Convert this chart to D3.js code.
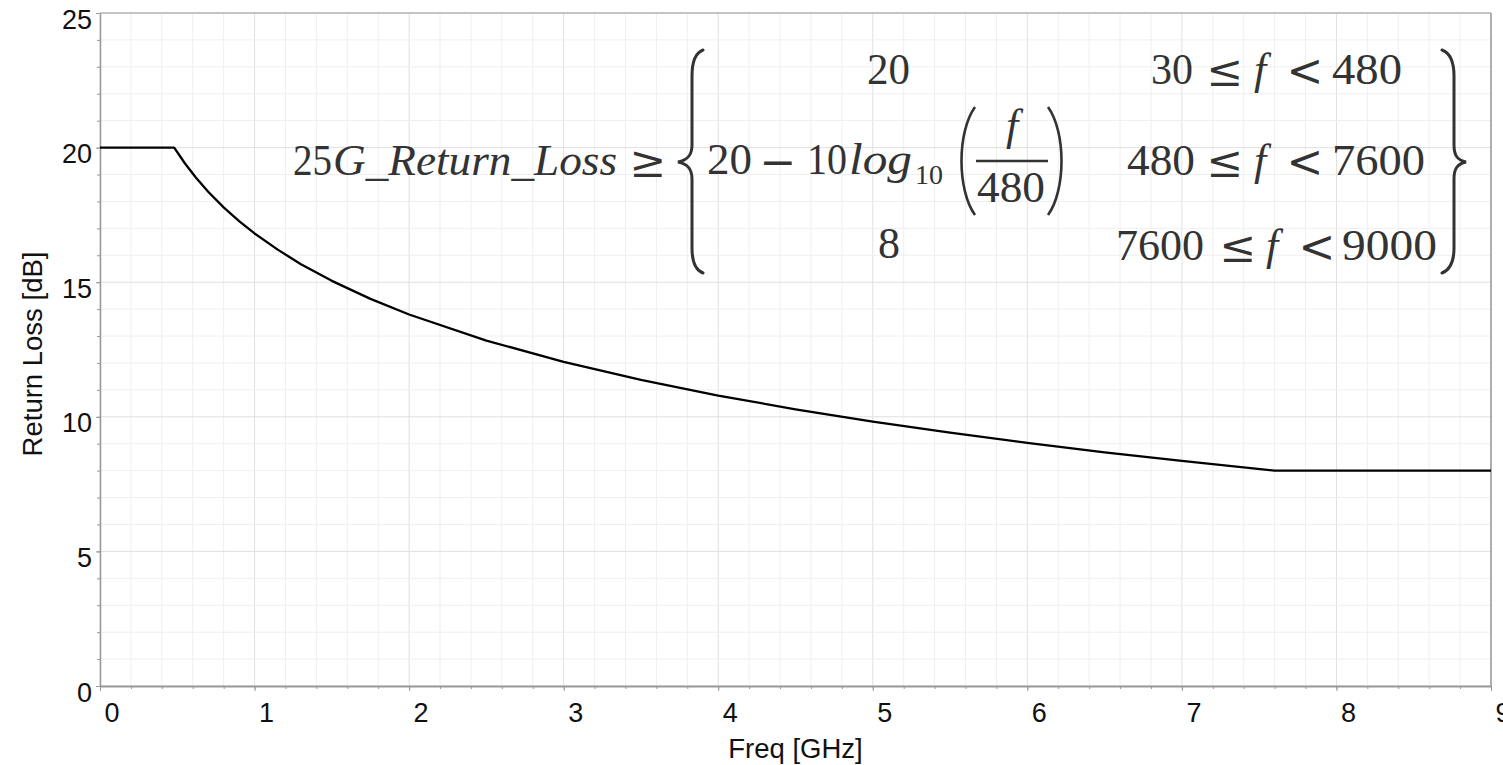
<!DOCTYPE html>
<html>
<head>
<meta charset="utf-8">
<title>25G Return Loss</title>
<script src="https://d3js.org/d3.v7.min.js"></script>
<style>
  body { margin:0; background:#fff; }
  svg { display:block; }
  .tick text { font-family: "Liberation Sans", Arial, sans-serif; font-size:27px; fill:#111; }
  .axis-title { font-family: "Liberation Sans", Arial, sans-serif; fill:#111; }
  .math { font-family: "Liberation Serif", "Times New Roman", serif; font-size:44px; fill:#333; }
  .math .rel { font-family: "DejaVu Serif", serif; font-size:44px; }
</style>
</head>
<body>
<script>
// values
var freqGHz      = [0, 0.48, 0.55, 0.62, 0.7, 0.8, 0.9, 1.0, 1.15, 1.3, 1.5, 1.75, 2.0, 2.5, 3.0, 3.5, 4.0, 4.5, 5.0, 5.5, 6.0, 6.5, 7.0, 7.6, 9.0];
var returnLossDb = [20, 20, 19.41, 18.89, 18.36, 17.78, 17.27, 16.81, 16.21, 15.67, 15.05, 14.38, 13.80, 12.83, 12.04, 11.37, 10.79, 10.28, 9.82, 9.41, 9.03, 8.68, 8.36, 8.00, 8.00];

var xTickLabels = [0, 1, 2, 3, 4, 5, 6, 7, 8, 9];
var yTickLabels = [0, 5, 10, 15, 20, 25];

var width = 1503, height = 765;
var plotLeft = 100, plotRight = 1491, plotTop = 13, plotBottom = 686;

var svg = d3.select("body").append("svg")
	.attr("width", width).attr("height", height);

var x = d3.scaleLinear().domain([0, 9]).range([plotLeft, plotRight]);
var y = d3.scaleLinear().domain([0, 25]).range([plotBottom, plotTop]);

var xMinor = d3.range(0, 9.001, 0.2);
var yMinor = d3.range(0, 25.001, 1);

// grid
var grid = svg.append("g");
grid.selectAll(".gx").data(xMinor).enter().append("line")
	.attr("x1", function(d) { return x(d); })
	.attr("x2", function(d) { return x(d); })
	.attr("y1", y(0)).attr("y2", y(25))
	.attr("stroke", function(d) { return Math.abs(d - Math.round(d)) < 1e-6 ? "#e0e0e0" : "#efefef"; })
	.attr("stroke-width", 1);
grid.selectAll(".gy").data(yMinor).enter().append("line")
	.attr("x1", x(0)).attr("x2", x(9))
	.attr("y1", function(d) { return y(d); })
	.attr("y2", function(d) { return y(d); })
	.attr("stroke", function(d) { return d % 5 === 0 ? "#e0e0e0" : "#efefef"; })
	.attr("stroke-width", 1);

// frame top / right
svg.append("line").attr("x1", x(0)).attr("x2", x(9)).attr("y1", y(25)).attr("y2", y(25))
	.attr("stroke", "#999").attr("stroke-width", 1.2);
svg.append("line").attr("x1", x(9)).attr("x2", x(9)).attr("y1", y(25)).attr("y2", y(0))
	.attr("stroke", "#999").attr("stroke-width", 1.5);

// minor ticks
var xMinorAxis = svg.append("g").attr("transform", "translate(0," + plotBottom + ")")
	.call(d3.axisBottom(x).tickValues(xMinor).tickSize(3).tickSizeOuter(0).tickFormat(""));
xMinorAxis.select(".domain").remove();
xMinorAxis.selectAll("line").attr("stroke", "#999");

var yMinorAxis = svg.append("g").attr("transform", "translate(" + plotLeft + ",0)")
	.call(d3.axisLeft(y).tickValues(yMinor).tickSize(3).tickSizeOuter(0).tickFormat(""));
yMinorAxis.select(".domain").remove();
yMinorAxis.selectAll("line").attr("stroke", "#999");

// major axes
var xAxis = svg.append("g").attr("transform", "translate(0," + plotBottom + ")")
	.call(d3.axisBottom(x).tickValues(xTickLabels).tickSize(5).tickSizeOuter(0).tickFormat(d3.format("d")));
xAxis.select(".domain").attr("stroke", "#999").attr("stroke-width", 2);
xAxis.selectAll(".tick line").attr("stroke", "#999");
xAxis.selectAll(".tick text").attr("text-anchor", "start").attr("x", 4).attr("y", 36).attr("dy", null);

var yAxis = svg.append("g").attr("transform", "translate(" + plotLeft + ",0)")
	.call(d3.axisLeft(y).tickValues(yTickLabels).tickSize(4).tickSizeOuter(0).tickFormat(d3.format("d")));
yAxis.select(".domain").attr("stroke", "#999").attr("stroke-width", 1.5);
yAxis.selectAll(".tick line").attr("stroke", "#999");
yAxis.selectAll(".tick text").attr("x", -8).attr("y", 15).attr("dy", null);

// curve
var line = d3.line()
	.x(function(d, i) { return x(freqGHz[i]); })
	.y(function(d, i) { return y(returnLossDb[i]); });
svg.append("path")
	.attr("d", line(freqGHz))
	.attr("fill", "none").attr("stroke", "#000")
	.attr("stroke-width", 2.3).attr("stroke-linejoin", "round");

// axis titles
svg.append("text").attr("class", "axis-title")
	.attr("x", (plotLeft + plotRight) / 2).attr("y", 758)
	.attr("text-anchor", "middle").attr("font-size", 27.5)
	.text("Freq [GHz]");
svg.append("text").attr("class", "axis-title")
	.attr("transform", "translate(42,354) rotate(-90)")
	.attr("text-anchor", "middle").attr("font-size", 27.5)
	.text("Return Loss [dB]");

// formula annotation
var eq = svg.append("g").attr("class", "math");

// token: [text, x, width, baseline, kind]
// kind: "n" upright, "i" italic, "s" subscript (x = left edge)
//       "r" relation, "m" minus (x = centre)
var relShift = { r: 2, m: 3 };
function tok(t) {
	var el = eq.append("text").attr("x", t[1]).attr("y", t[3]).text(t[0]);
	if (t[2]) el.attr("textLength", t[2]).attr("lengthAdjust", "spacingAndGlyphs");
	if (t[4] === "i") el.attr("font-style", "italic");
	if (t[4] === "r" || t[4] === "m") {
		el.attr("class", "rel").attr("text-anchor", "middle").attr("y", t[3] + relShift[t[4]]);
	}
	if (t[4] === "s") el.attr("font-size", 28);
	return el;
}

var eqTokens = [
	["25", 293, 39, 175, "n"], ["G_Return_Loss", 333, 284, 175, "i"], ["\u2265", 648, 0, 175, "r"],
	["20", 867, 43, 84, "n"],
	["20", 707, 45, 174, "n"], ["\u2212", 778, 0, 174, "m"], ["10", 807, 40, 174, "n"],
	["log", 849, 63, 174, "i"], ["10", 915, 28, 184, "s"],
	["480", 977, 68, 202, "n"],
	["8", 878, 22, 258, "n"],
	["30", 1151, 42, 84, "n"], ["\u2264", 1225, 0, 84, "r"], ["f", 1254, 0, 84, "i"],
	["<", 1305, 0, 84, "r"], ["480", 1332, 70, 84, "n"],
	["480", 1127, 68, 175, "n"], ["\u2264", 1225, 0, 175, "r"], ["f", 1254, 0, 175, "i"],
	["<", 1305, 0, 175, "r"], ["7600", 1332, 93, 175, "n"],
	["7600", 1116, 88, 260, "n"], ["\u2264", 1238, 0, 260, "r"], ["f", 1266, 0, 260, "i"],
	["<", 1317, 0, 260, "r"], ["9000", 1342, 95, 260, "n"]
];
eqTokens.forEach(tok);
eq.append("text").attr("x", 1012).attr("y", 140).attr("text-anchor", "middle")
	.attr("font-style", "italic").text("f");

var braceL = "M703,50 C695,53 692,62 692,76 L692,145 C692,155 688,160 678,162 C688,164 692,169 692,179 L692,248 C692,262 695,270 703,273";
var braceR = "M1442,50 C1450,53 1454,62 1454,76 L1454,145 C1454,155 1457,160 1466,162 C1457,164 1454,169 1454,179 L1454,248 C1454,262 1450,270 1442,273";
[braceL, braceR].forEach(function(p) {
	eq.append("path").attr("d", p).attr("fill", "none").attr("stroke", "#333")
		.attr("stroke-width", 3).attr("stroke-linecap", "round");
});
eq.append("path").attr("d", "M975,107 C957,132 957,190 975,215")
	.attr("fill", "none").attr("stroke", "#333").attr("stroke-width", 2.6);
eq.append("path").attr("d", "M1048,107 C1066,132 1066,190 1048,215")
	.attr("fill", "none").attr("stroke", "#333").attr("stroke-width", 2.6);
eq.append("line").attr("x1", 976).attr("x2", 1048).attr("y1", 161).attr("y2", 161)
	.attr("stroke", "#333").attr("stroke-width", 2.6);
</script>
</body>
</html>
